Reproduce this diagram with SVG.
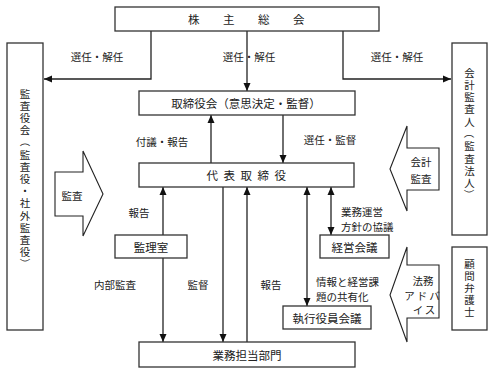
<svg xmlns="http://www.w3.org/2000/svg" width="493" height="373" viewBox="0 0 493 373">
<style>
.box{fill:#fff;stroke:#333;stroke-width:1.3}
.ln{fill:none;stroke:#222;stroke-width:1.3}
.blk{fill:#fff;stroke:#222;stroke-width:1.1}
text{font-family:"Noto Sans CJK JP","Noto Sans CJK SC",sans-serif;fill:#222;font-size:11px}
.t{font-size:11.5px;text-anchor:middle;dominant-baseline:central}
.l{font-size:10.5px;text-anchor:middle;dominant-baseline:central}
.ll{font-size:10.5px;dominant-baseline:central}
.v{font-size:10.5px;text-anchor:middle;dominant-baseline:central}
</style>
<defs>
<marker id="ah" viewBox="0 0 8 8" refX="8" refY="4" markerWidth="8" markerHeight="8" markerUnits="userSpaceOnUse" orient="auto-start-reverse">
<path d="M0,0.5 L8,4 L0,7.5 z" fill="#111"/>
</marker>
</defs>
<rect width="493" height="373" fill="#fff"/>

<g id="connectors">
<polyline class="ln" points="151,31 151,79 44,79" marker-end="url(#ah)"/>
<line class="ln" x1="247" y1="31" x2="247" y2="91" marker-end="url(#ah)"/>
<polyline class="ln" points="343,31 343,79 451,79" marker-end="url(#ah)"/>
<line class="ln" x1="211" y1="163" x2="211" y2="115" marker-end="url(#ah)"/>
<line class="ln" x1="283" y1="115" x2="283" y2="163" marker-end="url(#ah)"/>
<line class="ln" x1="163" y1="235" x2="163" y2="187" marker-end="url(#ah)"/>
<line class="ln" x1="163" y1="258" x2="163" y2="342" marker-end="url(#ah)"/>
<line class="ln" x1="223" y1="187" x2="223" y2="342" marker-end="url(#ah)"/>
<line class="ln" x1="247" y1="342" x2="247" y2="187" marker-end="url(#ah)"/>
<line class="ln" x1="307" y1="187" x2="307" y2="306" marker-start="url(#ah)" marker-end="url(#ah)"/>
<line class="ln" x1="331" y1="187" x2="331" y2="235" marker-start="url(#ah)" marker-end="url(#ah)"/>
<text class="l" x="97" y="56">選任・解任</text>
<text class="l" x="249" y="56">選任・解任</text>
<text class="l" x="397" y="56">選任・解任</text>
<text class="l" x="162" y="141">付議・報告</text>
<text class="l" x="330" y="139">選任・監督</text>
<text class="l" x="139" y="212">報告</text>
<text class="l" x="115" y="284">内部監査</text>
<text class="l" x="198" y="284">監督</text>
<text class="l" x="271" y="284">報告</text>
<text class="ll" x="341" y="211">業務運営</text>
<text class="ll" x="341" y="226">方針の協議</text>
<text class="ll" x="316" y="281">情報と経営課</text>
<text class="ll" x="316" y="296">題の共有化</text>
</g>

<g id="shareholders">
<rect class="box" x="115" y="7" width="264" height="24"/>
<text class="t" x="258" y="19" style="letter-spacing:23.5px">株主総会</text>
</g>
<g id="board">
<rect class="box" x="139" y="91" width="216" height="24"/>
<text class="t" x="246" y="103">取締役会（意思決定・監督）</text>
</g>
<g id="representative">
<rect class="box" x="139" y="163" width="215" height="24"/>
<text class="t" x="249" y="175" style="letter-spacing:5.5px">代表取締役</text>
</g>
<g id="audit-office">
<rect class="box" x="115" y="235" width="72" height="23"/>
<text class="t" x="151" y="246.5">監理室</text>
</g>
<g id="management-meeting">
<rect class="box" x="320" y="235" width="69" height="23"/>
<text class="t" x="354.5" y="246.5">経営会議</text>
</g>
<g id="exec-meeting">
<rect class="box" x="283" y="306" width="88" height="23"/>
<text class="t" x="327" y="317.5">執行役員会議</text>
</g>
<g id="business-dept">
<rect class="box" x="139" y="342" width="216" height="25"/>
<text class="t" x="247" y="354.5">業務担当部門</text>
</g>
<g id="kansayakukai">
<rect class="box" x="7" y="43" width="36" height="287"/>
<text class="v"><tspan x="25" y="92.6">監</tspan><tspan x="25" y="104.8">査</tspan><tspan x="25" y="117">役</tspan><tspan x="25" y="129.2">会</tspan></text>
<text class="v" transform="rotate(90 25 141.4)" x="25" y="141.4">（</text>
<text class="v"><tspan x="25" y="153.6">監</tspan><tspan x="25" y="165.8">査</tspan><tspan x="25" y="178">役</tspan><tspan x="25" y="190.2">・</tspan><tspan x="25" y="202.4">社</tspan><tspan x="25" y="214.6">外</tspan><tspan x="25" y="226.8">監</tspan><tspan x="25" y="239">査</tspan><tspan x="25" y="251.2">役</tspan></text>
<text class="v" transform="rotate(90 25 263.4)" x="25" y="263.4">）</text>
</g>
<g id="accounting-auditor">
<rect class="box" x="452" y="43" width="35" height="192"/>
<text class="v"><tspan x="469.5" y="71.5">会</tspan><tspan x="469.5" y="83.8">計</tspan><tspan x="469.5" y="96.1">監</tspan><tspan x="469.5" y="108.4">査</tspan><tspan x="469.5" y="120.7">人</tspan></text>
<text class="v" transform="rotate(90 469.5 133)" x="469.5" y="133">（</text>
<text class="v"><tspan x="469.5" y="145.3">監</tspan><tspan x="469.5" y="157.6">査</tspan><tspan x="469.5" y="169.9">法</tspan><tspan x="469.5" y="182.2">人</tspan></text>
<text class="v" transform="rotate(90 469.5 194.5)" x="469.5" y="194.5">）</text>
</g>
<g id="lawyer">
<rect class="box" x="452" y="247" width="35" height="83"/>
<text class="v"><tspan x="469.5" y="263">顧</tspan><tspan x="469.5" y="275">問</tspan><tspan x="469.5" y="287">弁</tspan><tspan x="469.5" y="299">護</tspan><tspan x="469.5" y="311">士</tspan></text>
</g>
<g id="audit-arrow">
<polygon class="blk" points="55,172 83,172 83,151 103,194 83,236 83,216 55,216"/>
<text class="l" x="72" y="195">監査</text>
</g>
<g id="accounting-audit-arrow">
<polygon class="blk" points="439,148 407,148 407,126 390,169 407,211 407,190 439,190"/>
<text class="l" x="421" y="161">会計</text>
<text class="l" x="421" y="178">監査</text>
</g>
<g id="legal-advice-arrow">
<polygon class="blk" points="439,265 407,265 407,247 390,295 407,342 407,318 439,318"/>
<text class="l" x="423" y="280">法務</text>
<text class="l" x="423" y="295" style="letter-spacing:2px">アドバ</text>
<text class="l" x="425" y="309" style="letter-spacing:2px">イス</text>
</g>
</svg>
